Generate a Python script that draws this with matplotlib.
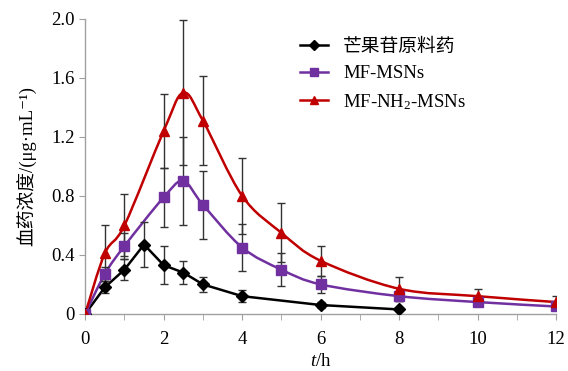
import matplotlib
matplotlib.use('Agg')
import matplotlib.pyplot as plt
from matplotlib.path import Path
from matplotlib.patches import PathPatch
from matplotlib.lines import Line2D
import numpy as np

plt.rcParams['font.family'] = ['Liberation Serif', 'DejaVu Serif', 'Noto Sans CJK SC']
plt.rcParams['mathtext.fontset'] = 'custom'
plt.rcParams['mathtext.rm'] = 'Liberation Serif'
plt.rcParams['mathtext.it'] = 'Liberation Serif:italic'

# raw drug (芒果苷原料药)
t_raw = [0, 0.5, 1, 1.5, 2, 2.5, 3, 4, 6, 8]
c_raw = [0, 0.18, 0.30, 0.47, 0.33, 0.28, 0.20, 0.12, 0.06, 0.03]
e_raw = [0, 0.04, 0.07, 0.15, 0.13, 0.08, 0.05, 0.04, 0.02, 0.01]

# MF-MSNs
t_msn = [0, 0.5, 1, 2, 2.5, 3, 4, 5, 6, 8, 10, 12]
c_msn = [0, 0.27, 0.46, 0.79, 0.90, 0.74, 0.45, 0.30, 0.20, 0.12, 0.08, 0.05]
e_msn = [0, 0.05, 0.09, 0.20, 0.30, 0.23, 0.16, 0.11, 0.06, 0.03, 0.02, 0.02]

# MF-NH2-MSNs
t_nh2 = [0, 0.5, 1, 2, 2.5, 3, 4, 5, 6, 8, 10, 12]
c_nh2 = [0, 0.41, 0.60, 1.24, 1.50, 1.31, 0.80, 0.55, 0.36, 0.17, 0.12, 0.08]
e_nh2 = [0, 0.19, 0.21, 0.25, 0.49, 0.30, 0.26, 0.20, 0.10, 0.08, 0.05, 0.04]

labels = ['芒果苷原料药', 'MF-MSNs', 'MF-NH$_2$-MSNs']
colors = ['#000000', '#7030A0', '#C00000']
markers = ['D', 's', '^']


def smooth_path(x, y):
    # Excel-like smoothed line drawn as cubic bezier segments
    p = np.column_stack([x, y]).astype(float)
    n = len(p)
    verts = [p[0]]
    codes = [Path.MOVETO]
    for i in range(n - 1):
        p0 = p[i - 1] if i > 0 else p[i]
        p3 = p[i + 2] if i + 2 < n else p[i + 1]
        c1 = p[i] + (p[i + 1] - p0) / 6
        c2 = p[i + 1] - (p3 - p[i]) / 6
        verts += [c1, c2, p[i + 1]]
        codes += [Path.CURVE4] * 3
    return Path(verts, codes)


fig = plt.figure(figsize=(5.68, 3.71), dpi=100)
ax = fig.add_axes([0.150, 0.154, 0.829, 0.795])

series = [(t_raw, c_raw, e_raw), (t_msn, c_msn, e_msn), (t_nh2, c_nh2, e_nh2)]
handles = []
for k, (t, c, e) in enumerate(series):
    if k == 0:
        ax.plot(t, c, color=colors[k], lw=1.8, zorder=3)
    else:
        ax.add_patch(PathPatch(smooth_path(t, c), fill=False, edgecolor=colors[k],
                               lw=1.8, transform=ax.transData, zorder=3))
    ax.errorbar(t, c, yerr=e, fmt='none', ecolor='#333333', elinewidth=1,
                capsize=3, capthick=1, zorder=4)
    ms = 6 if markers[k] == 'D' else 7
    ax.plot(t, c, ls='none', marker=markers[k], ms=ms, color=colors[k], zorder=5)
    handles.append(Line2D([], [], color=colors[k], lw=1.8, marker=markers[k], ms=ms - 1))

ax.set_xlim(0, 12)
ax.set_ylim(0, 2.0)
ax.set_xticks(range(0, 13, 2))
ax.set_xticks(range(1, 13, 2), minor=True)
ax.set_yticks([0, 0.4, 0.8, 1.2, 1.6, 2.0])
ax.set_yticklabels(['0', '0.4', '0.8', '1.2', '1.6', '2.0'])
ax.tick_params(axis='both', which='both', direction='out', length=4,
               color='#a0a0a0', labelsize=13.5)
ax.tick_params(axis='x', pad=8)
for s in ['top', 'right']:
    ax.spines[s].set_visible(False)
for s in ['left', 'bottom']:
    ax.spines[s].set_color('#a0a0a0')
    ax.spines[s].set_linewidth(1)

ax.set_xlabel('$t$/h', fontsize=13.5, labelpad=4)
ax.set_ylabel('血药浓度/(μg·mL⁻¹)', fontsize=13.5, labelpad=10)

ax.legend(handles, labels, loc='upper left', bbox_to_anchor=(0.42, 0.99),
          frameon=False, fontsize=13.5, handlelength=1.5, handletextpad=0.8,
          labelspacing=0.5)

fig.savefig('out.png', dpi=100)
